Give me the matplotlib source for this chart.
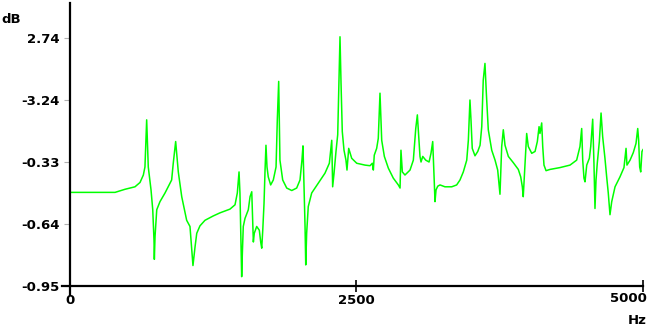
import numpy as np
import matplotlib
matplotlib.use("Agg")
import matplotlib.pyplot as plt
import matplotlib.transforms as mtransforms

# frequency response trace (Hz, level in tick-step units)
freq_hz = [
    0, 393, 480, 567, 611, 640, 654, 669, 683, 707, 722, 733, 736, 742, 757, 785,
    829, 873, 887, 901, 922, 945, 975, 1018, 1047, 1056, 1073, 1091, 1106, 1134,
    1178, 1250, 1309, 1396, 1440, 1460, 1475, 1483, 1492, 1498, 1504, 1512, 1527,
    1556, 1571, 1586, 1594, 1600, 1608, 1629, 1652, 1664, 1673, 1682, 1693, 1702,
    1710, 1719, 1730, 1751, 1774, 1798, 1809, 1821, 1832, 1856, 1891, 1935, 1978,
    2007, 2024, 2033, 2042, 2051, 2057, 2065, 2079, 2109, 2167, 2225, 2263, 2284,
    2292, 2304, 2321, 2336, 2347, 2356, 2365, 2376, 2391, 2408, 2417, 2432, 2458,
    2502, 2574, 2618, 2638, 2647, 2655, 2676, 2690, 2705, 2720, 2743, 2778, 2821,
    2865, 2880, 2888, 2900, 2923, 2967, 2996, 3017, 3031, 3039, 3054, 3063, 3078,
    3104, 3133, 3150, 3165, 3174, 3179, 3185, 3194, 3209, 3229, 3272, 3331, 3374,
    3403, 3432, 3462, 3476, 3490, 3499, 3510, 3534, 3558, 3578, 3593, 3606, 3621,
    3633, 3650, 3680, 3709, 3732, 3743, 3752, 3767, 3781, 3796, 3825, 3868, 3912,
    3933, 3947, 3955, 3964, 3977, 3985, 3999, 4029, 4058, 4078, 4093, 4101, 4116,
    4125, 4136, 4154, 4188, 4276, 4363, 4421, 4450, 4465, 4474, 4485, 4494, 4509,
    4532, 4544, 4561, 4572, 4581, 4590, 4601, 4619, 4634, 4648, 4668, 4683, 4697,
    4712, 4727, 4756, 4799, 4834, 4852, 4860, 4887, 4915, 4939, 4954, 4962, 4971,
    4980, 4991, 5000,
]
level = [
    1.51, 1.51, 1.56, 1.60, 1.67, 1.79, 1.92, 2.68, 1.92, 1.55, 1.23, 0.74, 0.43,
    0.80, 1.23, 1.36, 1.50, 1.66, 1.71, 1.98, 2.33, 1.84, 1.44, 1.06, 0.96, 0.74,
    0.33, 0.63, 0.85, 0.97, 1.06, 1.13, 1.18, 1.24, 1.31, 1.50, 1.84, 1.50, 0.69,
    0.15, 0.53, 0.96, 1.09, 1.23, 1.44, 1.52, 1.06, 0.71, 0.85, 0.96, 0.90, 0.71,
    0.61, 0.90, 1.33, 1.87, 2.27, 1.92, 1.76, 1.63, 1.71, 1.92, 2.68, 3.30, 2.03,
    1.71, 1.58, 1.54, 1.58, 1.71, 2.03, 2.26, 1.60, 0.96, 0.34, 0.85, 1.28, 1.50,
    1.66, 1.82, 1.98, 2.35, 1.60, 1.82, 2.17, 2.44, 3.27, 4.02, 3.27, 2.49, 2.19,
    2.03, 1.87, 2.22, 2.06, 1.98, 1.95, 1.94, 1.98, 1.87, 2.11, 2.22, 2.38, 3.11,
    2.35, 2.09, 1.90, 1.74, 1.63, 1.58, 2.19, 1.84, 1.79, 1.87, 2.03, 2.54, 2.76,
    2.52, 2.09, 2.00, 2.09, 2.03, 2.00, 2.14, 2.33, 1.92, 1.66, 1.36, 1.55, 1.61,
    1.63, 1.60, 1.60, 1.63, 1.71, 1.84, 2.03, 2.35, 3.00, 2.68, 2.22, 2.10, 2.17,
    2.27, 2.57, 3.32, 3.59, 3.11, 2.52, 2.19, 2.03, 1.87, 1.66, 1.48, 2.25, 2.52,
    2.27, 2.09, 1.99, 1.88, 1.76, 1.60, 1.44, 1.76, 2.19, 2.46, 2.25, 2.14, 2.17,
    2.33, 2.57, 2.46, 2.63, 2.25, 1.95, 1.86, 1.88, 1.91, 1.95, 2.03, 2.25, 2.54,
    2.03, 1.74, 1.68, 1.95, 2.06, 2.25, 2.69, 1.98, 1.25, 1.71, 1.98, 2.33, 2.79,
    2.41, 2.06, 1.76, 1.50, 1.15, 1.36, 1.60, 1.76, 1.91, 2.22, 1.95, 2.03, 2.15,
    2.30, 2.54, 2.35, 1.92, 1.84, 2.17, 2.20,
]

y_tick_labels = ["-0.95", "-0.64", "-0.33", "-3.24", "2.74"]
x_ticks = [0, 2500, 5000]

FONT = dict(family="DejaVu Sans", weight="bold", size=9.5)

fig = plt.figure(figsize=(6.5, 3.34), dpi=100)
ax = fig.add_axes([70 / 650, 48 / 334, 573 / 650, 283 / 334])

ax.plot(freq_hz, level, color="#00ff00", lw=1.1)
ax.set_xlim(0, 5000)
ax.set_ylim(0, 283 / 62)

for s in ax.spines.values():
    s.set_visible(False)

# axis lines overshoot a bit past the corner, like the original
ax.plot([-8 / 573, 1], [0, 0], color="black", lw=1.6, transform=ax.transAxes, clip_on=False)
ax.plot([0, 0], [-9 / 283, 1], color="black", lw=1.6, transform=ax.transAxes, clip_on=False)

ax.set_yticks(range(len(y_tick_labels)))
ax.set_yticklabels(y_tick_labels, **FONT)
ax.tick_params(axis="y", direction="out", length=4.5, width=0.8, color="#b0b0b0", pad=3)

ax.set_xticks(x_ticks)
ax.set_xticklabels([str(v) for v in x_ticks], **FONT)
ax.tick_params(axis="x", direction="inout", length=8, width=1.2, color="black", pad=2)
ax.xaxis.get_major_ticks()[0].tick1line.set_visible(False)
lbl = ax.get_xticklabels()[-1]
lbl.set_horizontalalignment("right")
lbl.set_transform(lbl.get_transform() + mtransforms.ScaledTranslation(4 / 100, 2 / 100, fig.dpi_scale_trans))

fig.text(11 / 650, 1 - 19.5 / 334, "dB", ha="center", va="center", **FONT)
fig.text(647 / 650, 1 - 321 / 334, "Hz", ha="right", va="center", **FONT)

fig.savefig("out.png", dpi=100)
